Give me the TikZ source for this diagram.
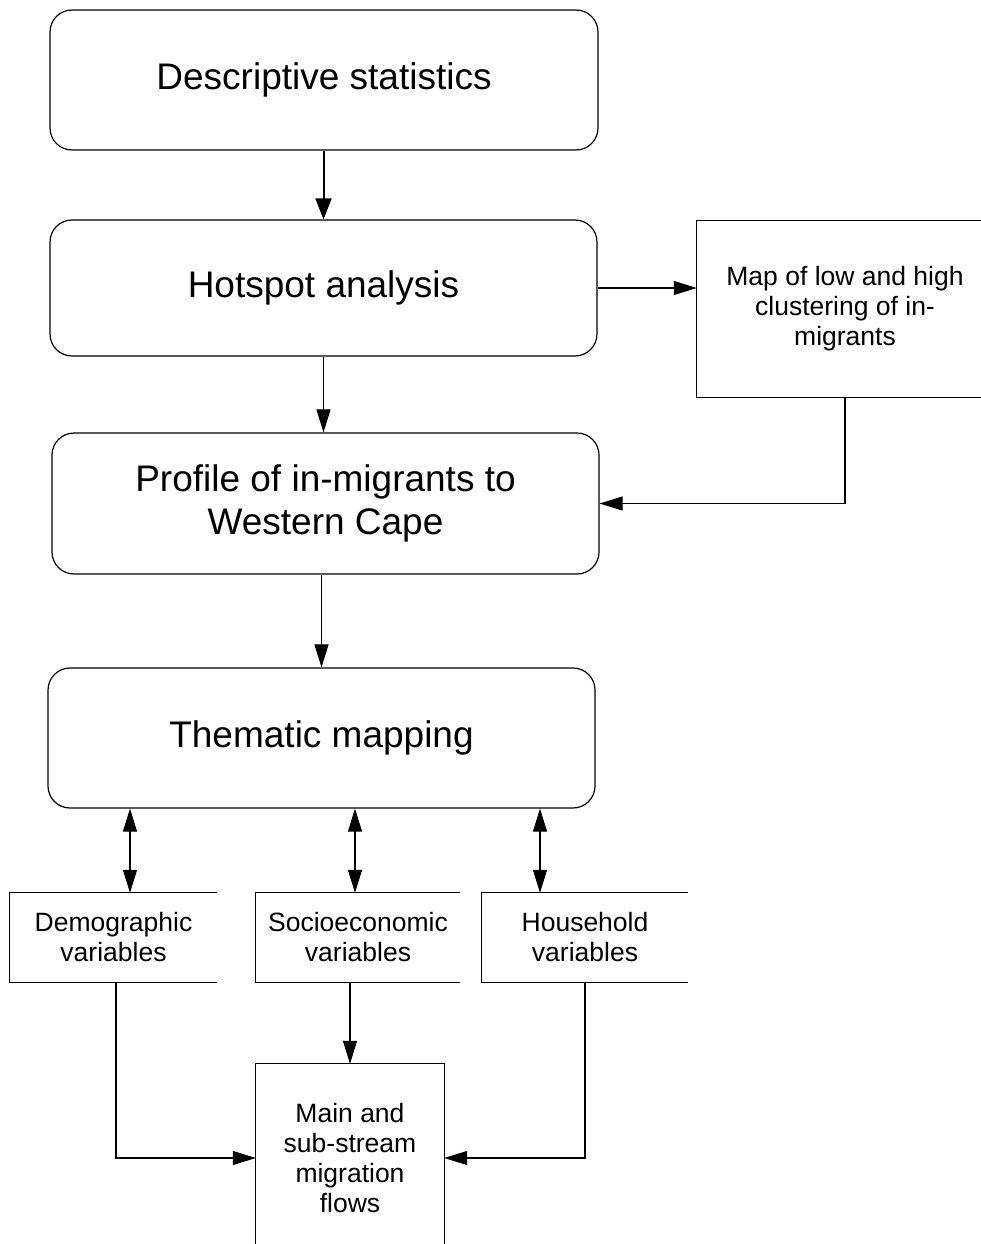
\documentclass[tikz,border=0pt]{standalone}
\usepackage{fontspec}
\setmainfont{Liberation Sans}
\usetikzlibrary{arrows.meta}
\begin{document}
\begin{tikzpicture}[x=1pt,y=-1pt,
  big/.style={draw, line width=1.2pt, rounded corners=22pt, inner sep=0pt, align=center,
    font=\fontsize{37}{43}\selectfont},
  opn/.style={inner sep=0pt, align=center, font=\fontsize{26.5}{30}\selectfont},
  side/.style={line width=1.1pt},
  arr/.style={line width=1.1pt, -{Triangle[length=23pt,width=14pt]}},
  dbl/.style={line width=1.1pt, {Triangle[length=23pt,width=14pt]}-{Triangle[length=23pt,width=14pt]}}
]
\useasboundingbox (0,0) rectangle (981,1244);
\node[big, minimum width=548pt, minimum height=140pt] (desc) at (324,80) {Descriptive statistics};
\node[big, minimum width=547pt, minimum height=136pt] (hot) at (323.5,288) {Hotspot analysis};
\node[big, minimum width=547pt, minimum height=141pt] (prof) at (325.5,503.5) {Profile of in-migrants to\\Western Cape};
\node[big, minimum width=547pt, minimum height=140pt] (them) at (321.5,738) {Thematic mapping};
\node[opn, minimum width=296pt, minimum height=176pt] (map) at (845,309) {Map of low and high\\clustering of in-\\migrants};

\node[opn, minimum width=207pt, minimum height=89pt] (demo) at (113.5,937.5) {Demographic\\variables};
\node[opn, minimum width=204pt, minimum height=89pt] (socio) at (358,937.5) {Socioeconomic\\variables};
\node[opn, minimum width=206pt, minimum height=89pt] (house) at (585,937.5) {Household\\variables};
\node[opn, minimum width=188pt, minimum height=188pt] (flows) at (350,1158) {Main and\\sub-stream\\migration\\flows};

% open boxes
\foreach \n in {map,demo,socio,house}
  \draw[side] (\n.north east) -- (\n.north west) -- (\n.south west) -- (\n.south east);
\draw[side] (flows.west |- 0,1244) -- (flows.north west) -- (flows.north east) -- (flows.east |- 0,1244);

% connectors
\draw[line width=2pt, -{Triangle[length=21pt,width=16pt]}] (desc.south -| hot.north) -- (hot.north);
\draw[arr] (hot.south) -- (hot.south |- prof.north);
\draw[arr] (hot.east) -- (hot.east -| map.west);
\draw[arr] (map.south) |- (prof.east);
\draw[arr] (prof.south -| them.north) -- (them.north);

\coordinate (c1) at (130,0);
\coordinate (c2) at (355,0);
\coordinate (c3) at (540,0);
\draw[dbl] (them.south -| c1) -- (demo.north -| c1);
\draw[dbl] (them.south -| c2) -- (socio.north -| c2);
\draw[dbl] (them.south -| c3) -- (house.north -| c3);

\coordinate (d1) at (116,0);
\coordinate (d2) at (350,0);
\coordinate (d3) at (585,0);
\draw[arr] (demo.south -| d1) |- (flows.west);
\draw[arr] (socio.south -| d2) -- (flows.north);
\draw[arr] (house.south -| d3) |- (flows.east);
\end{tikzpicture}
\end{document}
